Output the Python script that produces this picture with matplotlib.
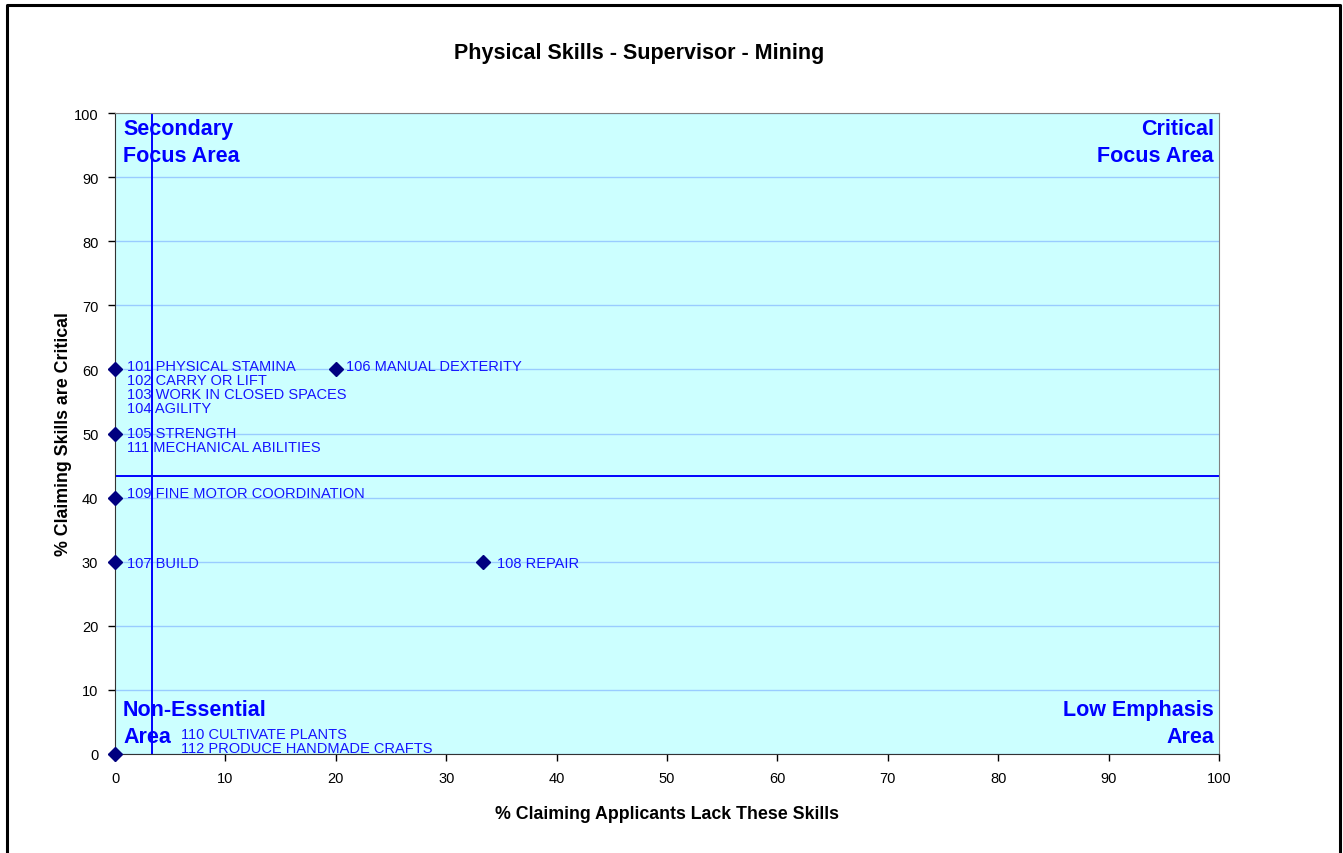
import matplotlib as mpl
import matplotlib.pyplot as plt
from matplotlib.lines import Line2D
mpl.use('agg')

plt.rcParams['font.family'] = ['Liberation Sans', 'DejaVu Sans']

# skill groups: % lacking, % critical, label text
lack = [0, 20, 0, 0, 0, 33.3, 0]
critical = [60, 60, 50, 40, 30, 30, 0]
labels = [
    '101 PHYSICAL STAMINA\n102 CARRY OR LIFT\n103 WORK IN CLOSED SPACES\n104 AGILITY',
    '106 MANUAL DEXTERITY',
    '105 STRENGTH\n111 MECHANICAL ABILITIES',
    '109 FINE MOTOR COORDINATION',
    '107 BUILD',
    '108 REPAIR',
    '110 CULTIVATE PLANTS\n112 PRODUCE HANDMADE CRAFTS',
]
# label offsets in pixels (dx, dy) from the marker
offsets = [(12, 10), (10, 10), (12, 7.5), (12, 11.5), (12, 5.5), (14, 5.5), (66, 27)]

avg_lack = 3.33
avg_critical = 43.3

title = 'Physical Skills - Supervisor - Mining'
xlabel = '% Claiming Applicants Lack These Skills'
ylabel = '% Claiming Skills are Critical'

W, H = 1343, 854
dpi = 100
fig = plt.figure(figsize=(W / dpi, H / dpi), dpi=dpi)
ax = fig.add_axes([115 / W, 1 - 755 / H, 1104 / W, 641 / H])
ax.set_facecolor('#ccffff')
ax.set_xlim(0, 100)
ax.set_ylim(0, 100)
ax.set_xticks(range(0, 101, 10))
ax.set_yticks(range(0, 101, 10))
ax.tick_params(direction='out', length=5, width=1, labelsize=10.5, colors='black', pad=7)
ax.yaxis.grid(True, color='#99ccff', linewidth=1, zorder=1)
ax.set_axisbelow(True)
for side in ['left', 'bottom']:
    ax.spines[side].set_color('#333333')
for side in ['top', 'right']:
    ax.spines[side].set_color('#808080')

ax.axvline(avg_lack, color='#0000ff', linewidth=1.4, zorder=2)
ax.axhline(avg_critical, color='#0000ff', linewidth=1.4, zorder=2)

ax.plot(lack, critical, linestyle='none', marker='D', markersize=7.2,
        color='#000080', clip_on=False, zorder=4)

for x, y, text, (dx, dy) in zip(lack, critical, labels, offsets):
    ax.annotate(text, (x, y), xytext=(dx, dy), textcoords='offset pixels',
                ha='left', va='top', fontsize=10.5, color='#1414ff',
                linespacing=1.0, zorder=5)

quad_font = dict(fontsize=15.5, fontweight='bold', color='#0000ff', linespacing=1.38)
ax.text(8 / 1104, 1 - 5 / 641, 'Secondary\nFocus Area', transform=ax.transAxes,
        ha='left', va='top', **quad_font)
ax.text(1 - 5 / 1104, 1 - 5 / 641, 'Critical\nFocus Area', transform=ax.transAxes,
        ha='right', va='top', multialignment='right', **quad_font)
ax.text(8 / 1104, 7 / 641, 'Non-Essential\nArea', transform=ax.transAxes,
        ha='left', va='bottom', **quad_font)
ax.text(1 - 5 / 1104, 7 / 641, 'Low Emphasis\nArea', transform=ax.transAxes,
        ha='right', va='bottom', multialignment='right', **quad_font)

fig.text(639 / W, 1 - 53 / H, title, ha='center', va='center',
         fontsize=15.5, fontweight='bold')
ax.set_xlabel(xlabel, fontsize=12.8, fontweight='bold', labelpad=15)
ax.set_ylabel(ylabel, fontsize=12.8, fontweight='bold', labelpad=1)

# frame around the chart (open at the bottom)
bx0, bx1, by = 7 / W, 1340 / W, 1 - 6 / H
fig.add_artist(Line2D([bx0, bx0, bx1, bx1], [0, by, by, 0],
                      transform=fig.transFigure, color='black', linewidth=2.2))

fig.savefig('out.png', dpi=dpi)
